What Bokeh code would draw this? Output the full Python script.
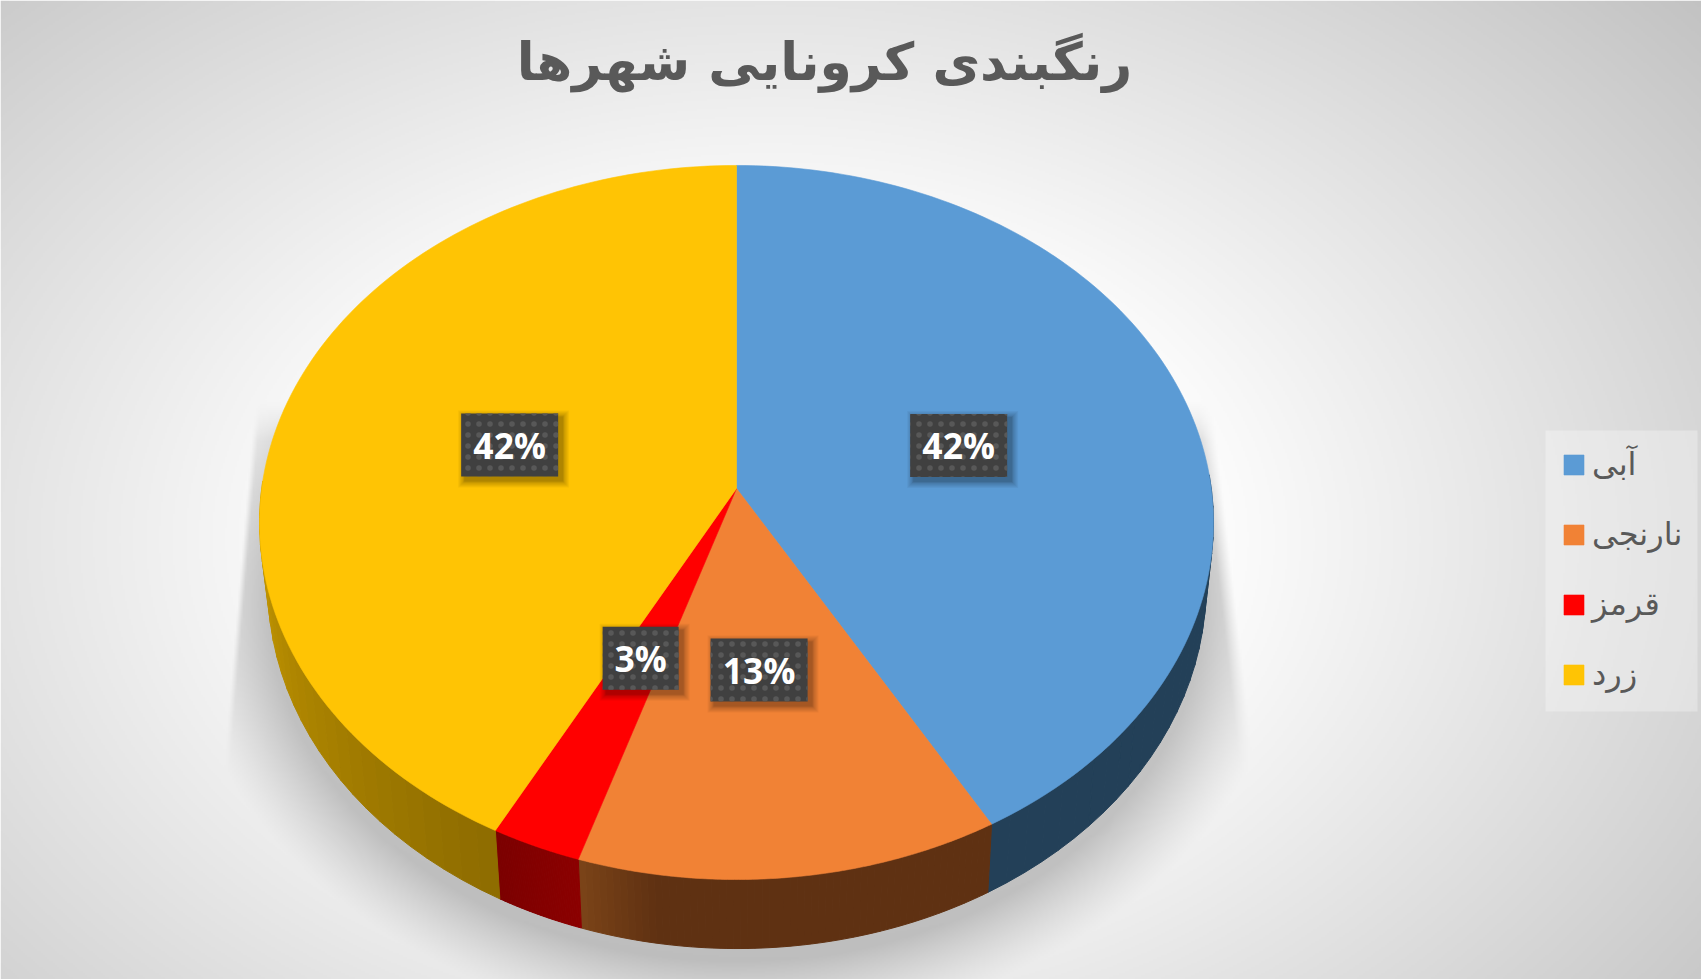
import numpy as np
from bokeh.plotting import figure
from bokeh.models import Legend, LegendItem
from bokeh.core.properties import value
from bokeh.embed import file_html
from bokeh.resources import INLINE

title_text = "رنگبندی کرونایی شهرها"
categories = ["آبی", "نارنجی", "قرمز", "زرد"]
shares = [41.8, 13.1, 2.8, 42.3]
share_labels = ["42%", "13%", "3%", "42%"]
top_colors = ["#5B9BD5", "#F18235", "#FF0000", "#FFC404"]
wall_start = ["#234058", "#5F3112", "#8C0000", "#8F6D00"]
wall_end = ["#234058", "#5F3112", "#7C0000", "#C89A00"]

W, H = 1701, 979

# geometry of the tilted disc, in reference pixels: (centre x, centre y, A, B)
PERSP = 0.0952
TOP = (736.0, 488.0, 474.8, 353.8)
LOW = (736.5, 551.6, 466.9, 358.7)
SHADOW = (736.5, 586.0 + 14, 469.0, 362.0)


def rim(deg, e):
    t = np.radians(deg)
    u, v = np.sin(t), -np.cos(t)
    d = 1 - PERSP * v
    return e[0] + e[2] * u / d, e[1] + e[3] * v / d


def hexrgb(h):
    return np.array([int(h[i:i + 2], 16) for i in (1, 3, 5)], float)


# background: radial grey gradient with the soft drop shadow of the disc
step = 2
gx, gy = np.meshgrid(np.arange(0, W, step) + 1.0, np.arange(0, H, step) + 1.0)
rr = np.sqrt(((gx - 770) / 1180) ** 2 + ((gy - 540) / 820) ** 2)
shade = 255 - 58 * np.clip(rr - 0.35, 0, None) / 0.65
ell = np.sqrt(((gx - SHADOW[0]) / SHADOW[2]) ** 2 + ((gy - SHADOW[1]) / SHADOW[3]) ** 2)
dist = (ell - 1) * 420
fall = np.clip(1 - dist / 80, 0, 1) ** 1.2
xl = 252 - (gy - 430) * 0.085
xr = 1216 + (gy - 430) * 0.115
mask = np.clip((gx - xl) / 6, 0, 1) * np.clip((xr - gx) / 14, 0, 1) * np.clip((gy - 400) / 40, 0, 1)
alpha = 0.42 * fall * mask
g = np.clip(shade * (1 - alpha) + 120 * alpha, 0, 255).astype(np.uint8)
img = np.empty(g.shape, dtype=np.uint32)
view = img.view(dtype=np.uint8).reshape((g.shape[0], g.shape[1], 4))
view[..., 0] = g
view[..., 1] = g
view[..., 2] = g
view[..., 3] = 255

p = figure(width=W, height=H, x_range=(0, W), y_range=(H, 0),
           toolbar_location=None, output_backend="svg", min_border=0)
p.axis.visible = False
p.grid.visible = False
p.outline_line_color = None
p.background_fill_color = "#ffffff"
p.border_fill_color = "#ffffff"

p.image_rgba(image=[img], x=0, y=0, dw=W, dh=H)

# cumulative angles from the shares
edges = np.concatenate([[0], np.cumsum(shares)]) / np.sum(shares) * 360

# side wall, drawn as narrow strips so its shading can run across a slice
for i in range(len(categories)):
    a0, a1 = edges[i], edges[i + 1]
    a = np.linspace(a0, a1, 61)
    s0, s1 = hexrgb(wall_start[i]), hexrgb(wall_end[i])
    xs, ys, cs = [], [], []
    for k in range(60):
        if a[k + 1] < 90 or a[k] > 270:
            continue
        t = np.clip((a[k] - a0) / (min(a1, 270) - a0), 0, 1)
        c = s0 * (1 - t) + s1 * t
        if i == 1:  # the brown wall brightens just before its far end
            c = c + (hexrgb("#7A4318") - c) * max(0, (k - 48) / 11)
        ux0, uy0 = rim(a[k], TOP)
        ux1, uy1 = rim(a[k + 1], TOP)
        lx0, ly0 = rim(a[k], LOW)
        lx1, ly1 = rim(a[k + 1], LOW)
        xs.append([ux0, ux1, lx1, lx0])
        ys.append([uy0, uy1, ly1, ly0])
        cs.append("#%02x%02x%02x" % tuple(int(v) for v in c))
    if xs:
        p.patches(xs, ys, fill_color=cs, line_color=cs, line_width=1)

# top face
items = []
for i, name in enumerate(categories):
    a = np.linspace(edges[i], edges[i + 1], 120)
    rx, ry = rim(a, TOP)
    r = p.patch(np.concatenate([[TOP[0]], rx]), np.concatenate([[TOP[1]], ry]),
                fill_color=top_colors[i], line_color=top_colors[i], line_width=0.6)
    items.append(LegendItem(label=name, renderers=[r]))

# data labels: along the slice's middle angle, with the small nudges seen in the chart
nudge = [(2.5, 0), (-4, -9), (2.5, -5.5), (-6, -3)]
for i, lab in enumerate(share_labels):
    mx, my = rim((edges[i] + edges[i + 1]) / 2, TOP)
    cx = TOP[0] + 0.49 * (mx - TOP[0]) + nudge[i][0]
    cy = TOP[1] + 0.49 * (my - TOP[1]) + nudge[i][1]
    bw = 97 if len(lab) == 3 else 76
    bh = 63
    for k in range(7):
        p.rect(cx + 4, cy + 4, width=bw + 14 - 2 * k, height=bh + 14 - 2 * k,
               fill_color="#000000", fill_alpha=0.04 if k < 5 else 0.08, line_color=None)
    p.rect(cx, cy, width=bw, height=bh, fill_color="#404040", line_color=None,
           hatch_pattern="dot", hatch_color="#585858", hatch_scale=11, hatch_weight=2)
    p.text([cx], [cy], text=[lab], text_align="center", text_baseline="middle",
           text_font=value("Open Sans"), text_font_style="bold",
           text_font_size="35.5px", text_color="#FFFFFF")

# title
p.text([824], [61], text=[title_text], text_align="center", text_baseline="middle",
       text_font=value("DejaVu Sans"), text_font_style="bold",
       text_font_size="52px", text_color="#595959")

# legend panel and legend
p.quad(left=1545, right=1697, top=430, bottom=711, fill_color="#FFFFFF", fill_alpha=0.3, line_color=None)
legend = Legend(items=items, location=(1561, 286), orientation="vertical",
                glyph_width=25, glyph_height=25, spacing=32, padding=0, margin=0,
                label_standoff=6, background_fill_alpha=0, border_line_color=None,
                label_text_font="DejaVu Sans", label_text_font_size="32px",
                label_text_color="#595959", label_height=21)
p.add_layout(legend, "center")

open("out.html", "w").write(file_html(p, INLINE))
